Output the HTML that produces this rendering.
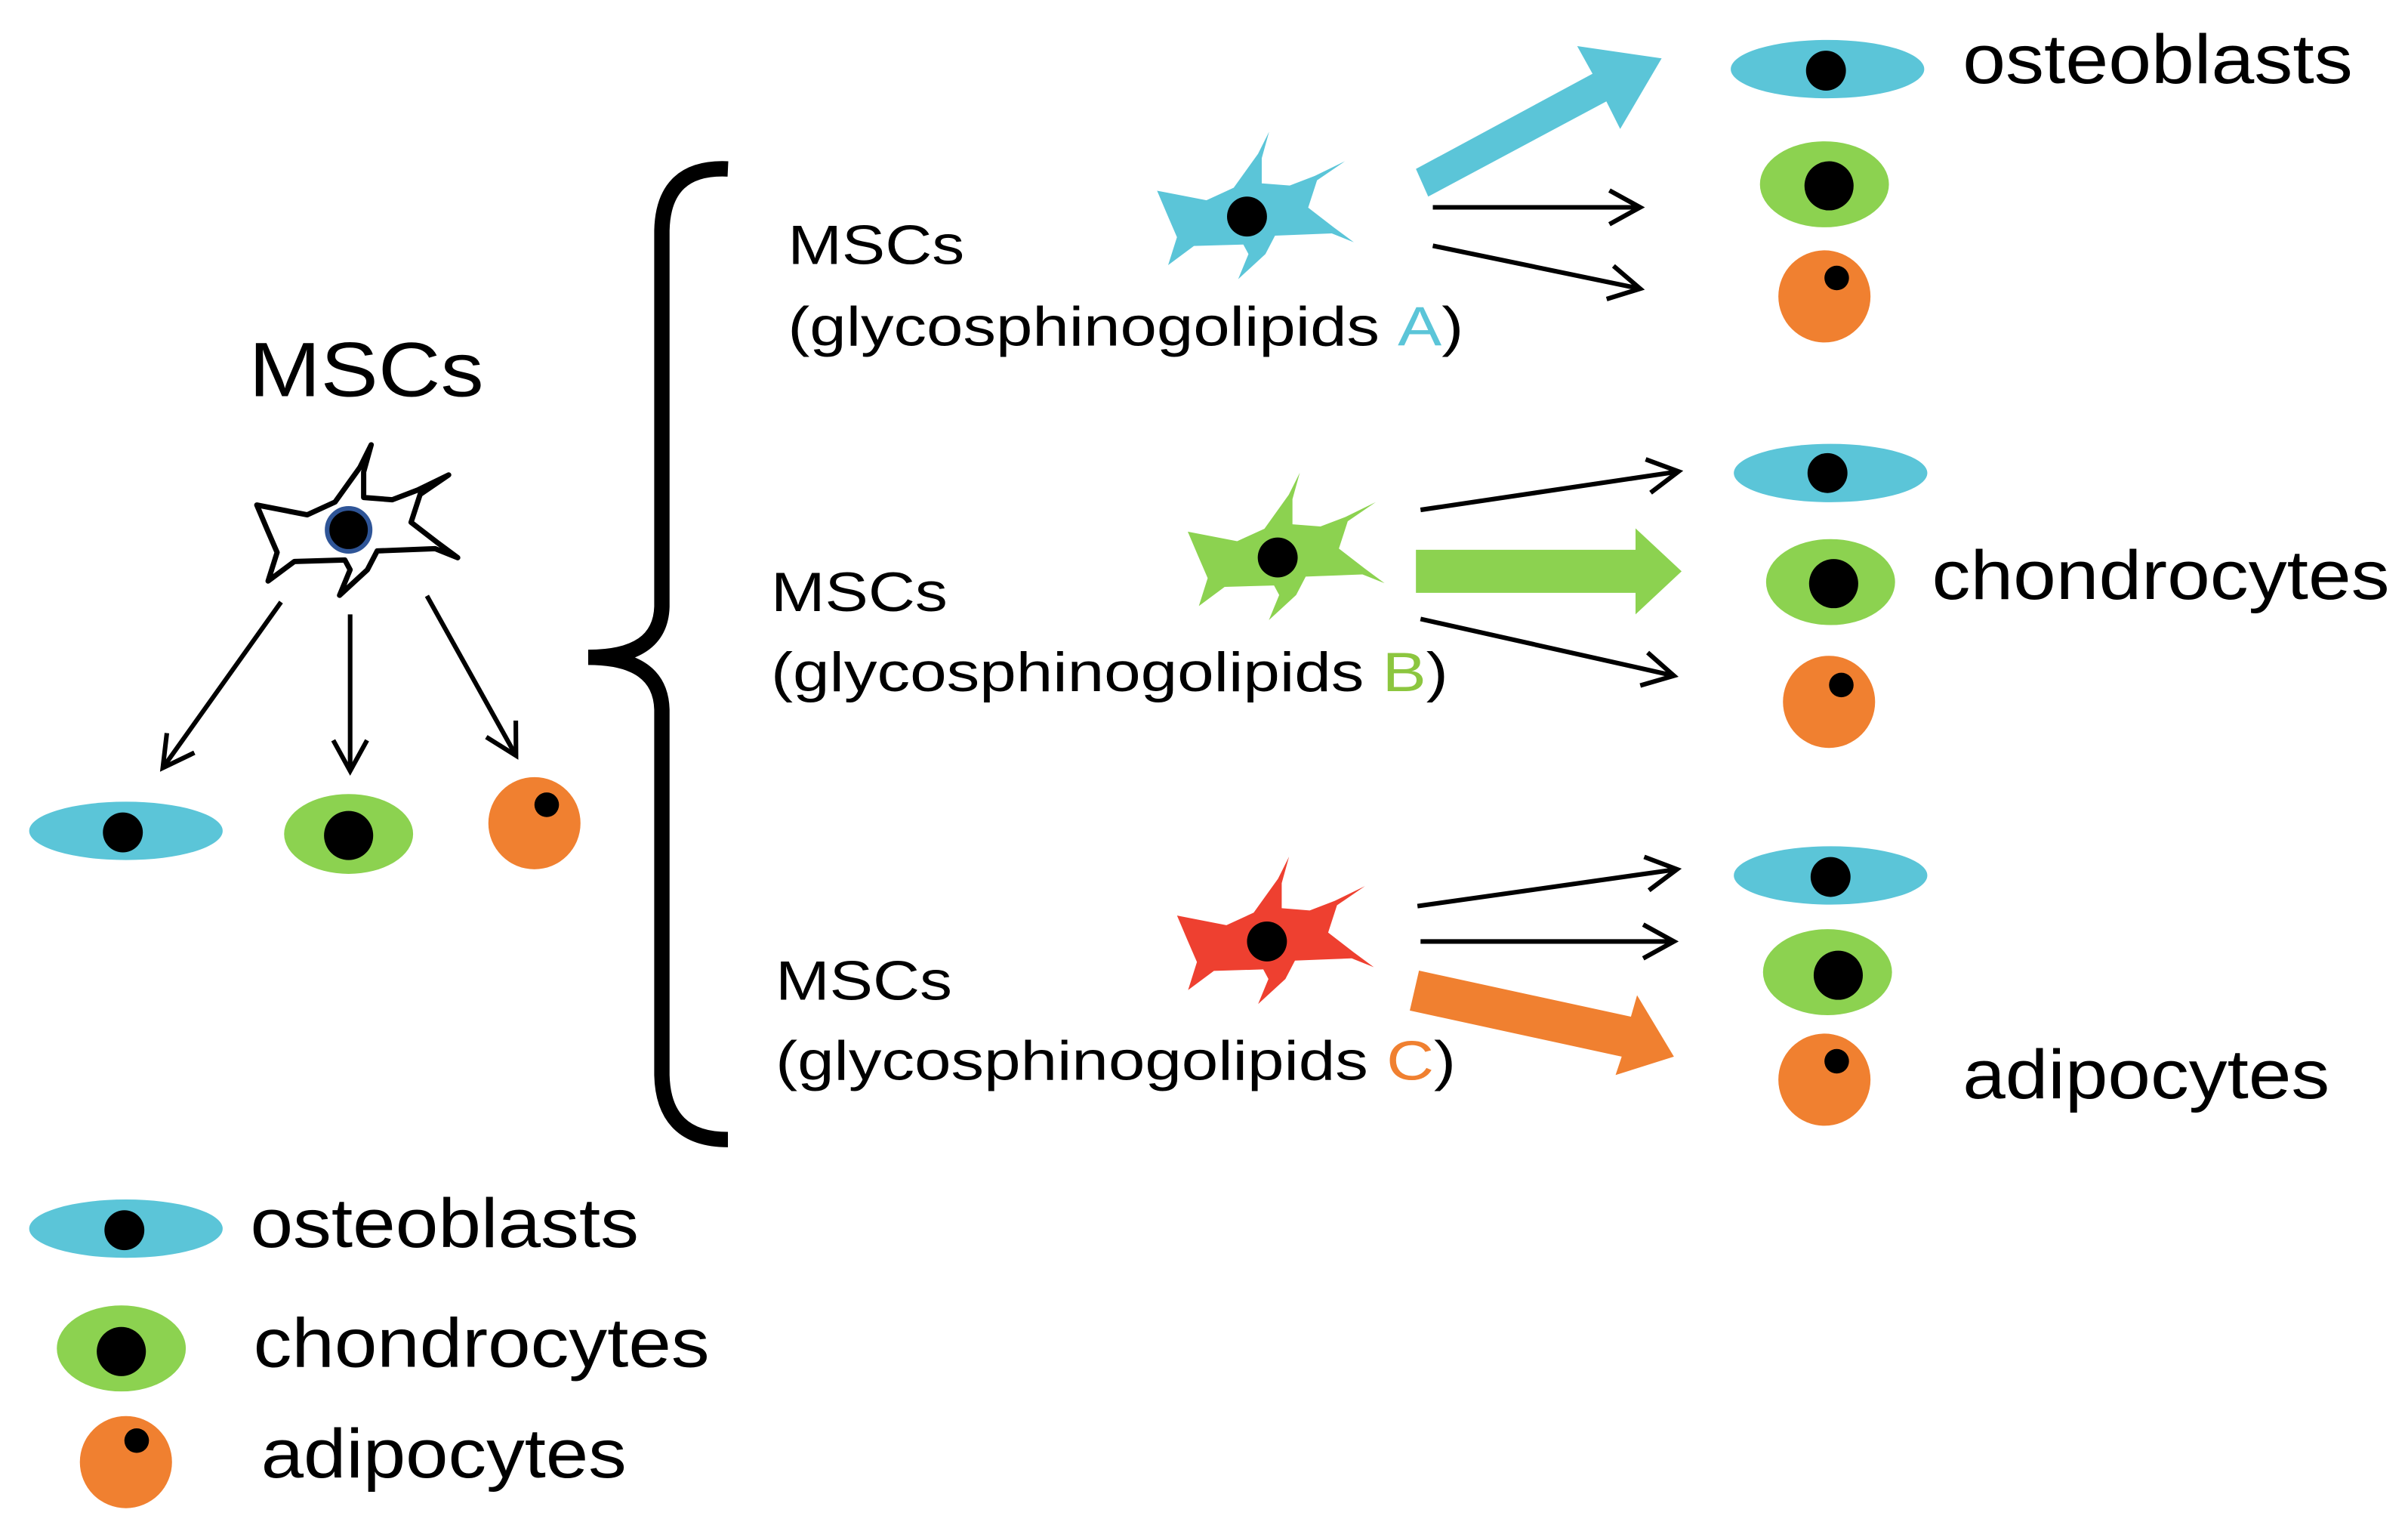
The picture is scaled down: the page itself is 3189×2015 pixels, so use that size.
<!DOCTYPE html>
<html><head><style>html,body{margin:0;padding:0;background:#fff}svg{display:block}
text{font-family:"Liberation Sans",sans-serif;fill:#000}</style></head><body>
<svg width="3189" height="2015" viewBox="0 0 1568 991" preserveAspectRatio="none" xmlns="http://www.w3.org/2000/svg">
<defs>
<path id="star" d="M-122,-33 L-55,-20 L-18,-37 L15,-83 L30,-113 L20,-77 L20,-43 L58,-40 L92,-53 L133,-73 L95,-47 L83,-10 L118,17 L145,37 L115,25 L38,28 L25,53 L-12,87 L2,53 L-5,40 L-72,42 L-107,68 L-95,30 L-108,0 Z"/>
<marker id="ah2" markerWidth="26" markerHeight="26" refX="22" refY="13" orient="auto" markerUnits="userSpaceOnUse"><path d="M2,2 L22,13 L2,24" fill="none" stroke="#000" stroke-width="3"/></marker>
</defs>
<rect width="1568" height="991" fill="#fff"/>
<text x="162" y="258" font-size="50" textLength="153" lengthAdjust="spacingAndGlyphs">MSCs</text>
<g transform="translate(227,345) scale(0.49)"><use href="#star" fill="#fff" stroke="#000" stroke-width="7" stroke-linejoin="round"/></g>
<circle cx="227" cy="345" r="14" fill="#000" stroke="#2f5597" stroke-width="3"/>
<g stroke="#000" stroke-width="3" fill="none" marker-end="url(#ah2)">
<line x1="183" y1="392" x2="106" y2="500"/><line x1="228" y1="400" x2="228" y2="502"/><line x1="278" y1="388" x2="336" y2="492"/>
</g>
<ellipse cx="82" cy="541" rx="63" ry="19" fill="#5bc5d8"/><circle cx="80" cy="542" r="13" fill="#000"/>
<ellipse cx="227" cy="543" rx="42" ry="26" fill="#8cd250"/><circle cx="227" cy="544" r="16" fill="#000"/>
<circle cx="348" cy="536" r="30" fill="#f08030"/><circle cx="356" cy="524" r="8" fill="#000"/>
<path d="M474,110 Q432,108 431,150 L431,395 Q430,428 383,428 Q430,428 431,462 L431,700 Q432,742 474,742" fill="none" stroke="#000" stroke-width="10"/>
<g font-size="36">
<text x="513" y="172" textLength="115" lengthAdjust="spacingAndGlyphs">MSCs</text><text x="513" y="225" textLength="440" lengthAdjust="spacingAndGlyphs">(glycosphinogolipids <tspan fill="#5bc5d8">A</tspan>)</text>
<text x="502" y="398" textLength="115" lengthAdjust="spacingAndGlyphs">MSCs</text><text x="502" y="450" textLength="441" lengthAdjust="spacingAndGlyphs">(glycosphinogolipids <tspan fill="#8cc63f">B</tspan>)</text>
<text x="505" y="651" textLength="115" lengthAdjust="spacingAndGlyphs">MSCs</text><text x="505" y="703" textLength="443" lengthAdjust="spacingAndGlyphs">(glycosphinogolipids <tspan fill="#f08030">C</tspan>)</text>
</g>
<g transform="translate(812,140) scale(0.48)"><use href="#star" fill="#5bc5d8"/></g><circle cx="812" cy="141" r="13" fill="#000"/>
<g transform="translate(832,362) scale(0.48)"><use href="#star" fill="#8cd250"/></g><circle cx="832" cy="363" r="13" fill="#000"/>
<g transform="translate(825,612) scale(0.48)"><use href="#star" fill="#ee4030"/></g><circle cx="825" cy="613" r="13" fill="#000"/>
<polygon points="922,110 1037,48 1027,30 1082,38 1055,84 1046,66 930,128" fill="#5bc5d8"/>
<polygon points="922,358 1065,358 1065,344 1095,372 1065,400 1065,386 922,386" fill="#8cd250"/>
<polygon points="924,632 1062,662 1066,648 1090,688 1052,700 1056,688 918,658" fill="#f08030"/>
<g stroke="#000" stroke-width="3" fill="none" marker-end="url(#ah2)">
<line x1="933" y1="135" x2="1068" y2="135"/><line x1="933" y1="160" x2="1068" y2="188"/>
<line x1="925" y1="332" x2="1093" y2="307"/><line x1="925" y1="403" x2="1090" y2="440"/>
<line x1="923" y1="590" x2="1092" y2="566"/><line x1="925" y1="613" x2="1090" y2="613"/>
</g>
<ellipse cx="1190" cy="45" rx="63" ry="19" fill="#5bc5d8"/><circle cx="1189" cy="46" r="13" fill="#000"/>
<ellipse cx="1188" cy="120" rx="42" ry="28" fill="#8cd250"/><circle cx="1191" cy="121" r="16" fill="#000"/>
<circle cx="1188" cy="193" r="30" fill="#f08030"/><circle cx="1196" cy="181" r="8" fill="#000"/>
<ellipse cx="1192" cy="308" rx="63" ry="19" fill="#5bc5d8"/><circle cx="1190" cy="308" r="13" fill="#000"/>
<ellipse cx="1192" cy="379" rx="42" ry="28" fill="#8cd250"/><circle cx="1194" cy="380" r="16" fill="#000"/>
<circle cx="1191" cy="457" r="30" fill="#f08030"/><circle cx="1199" cy="446" r="8" fill="#000"/>
<ellipse cx="1192" cy="570" rx="63" ry="19" fill="#5bc5d8"/><circle cx="1192" cy="571" r="13" fill="#000"/>
<ellipse cx="1190" cy="633" rx="42" ry="28" fill="#8cd250"/><circle cx="1197" cy="635" r="16" fill="#000"/>
<circle cx="1188" cy="703" r="30" fill="#f08030"/><circle cx="1196" cy="691" r="8" fill="#000"/>
<g font-size="45">
<text x="1278" y="54" textLength="254" lengthAdjust="spacingAndGlyphs">osteoblasts</text>
<text x="1258" y="390" textLength="298" lengthAdjust="spacingAndGlyphs">chondrocytes</text>
<text x="1278" y="715" textLength="239" lengthAdjust="spacingAndGlyphs">adipocytes</text>
<text x="163" y="812" textLength="253" lengthAdjust="spacingAndGlyphs">osteoblasts</text>
<text x="165" y="890" textLength="297" lengthAdjust="spacingAndGlyphs">chondrocytes</text>
<text x="170" y="962" textLength="238" lengthAdjust="spacingAndGlyphs">adipocytes</text>
</g>
<ellipse cx="82" cy="800" rx="63" ry="19" fill="#5bc5d8"/><circle cx="81" cy="801" r="13" fill="#000"/>
<ellipse cx="79" cy="878" rx="42" ry="28" fill="#8cd250"/><circle cx="79" cy="880" r="16" fill="#000"/>
<circle cx="82" cy="952" r="30" fill="#f08030"/><circle cx="89" cy="938" r="8" fill="#000"/>
</svg>
</body></html>
